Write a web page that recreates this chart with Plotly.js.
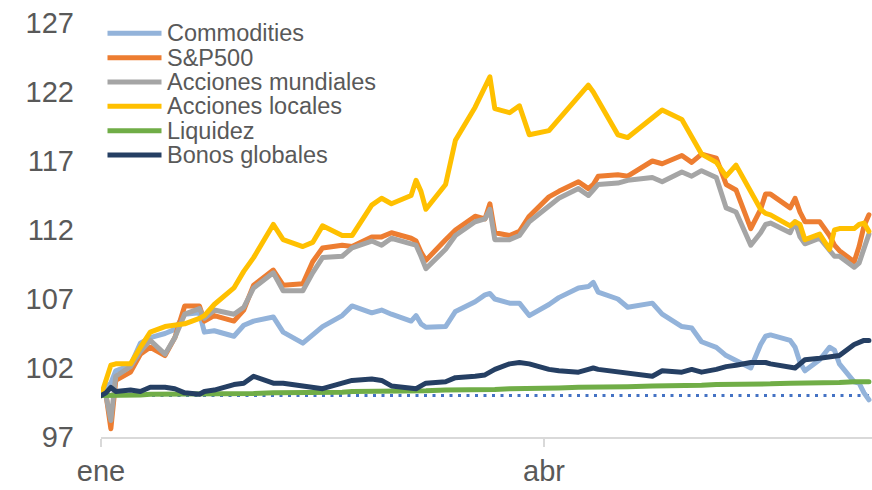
<!DOCTYPE html>
<html>
<head>
<meta charset="utf-8">
<script src="https://cdn.plot.ly/plotly-3.0.1.min.js"></script>
<style>
  html, body { margin: 0; padding: 0; background: #ffffff; }
  #chart { width: 872px; height: 490px; }
  .scatterlayer path.js-line { stroke-linejoin: round; stroke-linecap: round; }
</style>
</head>
<body>
<div id="chart"></div>
<script>
// Índices base 100 = 1 de enero
const fechas = [
  '2019-01-01','2019-01-02','2019-01-03','2019-01-04','2019-01-07','2019-01-09','2019-01-11','2019-01-14','2019-01-16','2019-01-18','2019-01-21','2019-01-22','2019-01-24','2019-01-28','2019-01-30',
  '2019-02-01','2019-02-05','2019-02-07','2019-02-11','2019-02-13','2019-02-15','2019-02-19','2019-02-21','2019-02-25','2019-02-27',
  '2019-03-01','2019-03-05','2019-03-06','2019-03-07','2019-03-08','2019-03-12','2019-03-14','2019-03-18','2019-03-20','2019-03-21','2019-03-22','2019-03-25','2019-03-27','2019-03-29',
  '2019-04-02','2019-04-04','2019-04-08','2019-04-10','2019-04-11','2019-04-12','2019-04-16','2019-04-18','2019-04-23','2019-04-25','2019-04-29',
  '2019-05-01','2019-05-03','2019-05-06','2019-05-08','2019-05-10','2019-05-13','2019-05-15','2019-05-16','2019-05-17','2019-05-21','2019-05-22','2019-05-23','2019-05-24','2019-05-27','2019-05-29','2019-05-30','2019-05-31',
  '2019-06-03','2019-06-04','2019-06-05','2019-06-06'];

const commodities = [
  100, 100.6, 100.9, 101.8, 102.2, 103.8, 104.2, 104.5, 104.8, 105.9, 106.0, 104.6, 104.7, 104.3, 105.1,
  105.4, 105.7, 104.6, 103.8, 104.4, 105.0, 105.8, 106.5, 106.0, 106.2,
  105.9, 105.4, 105.8, 105.2, 104.95, 105.0, 106.1, 106.8, 107.3, 107.4, 107.0, 106.7, 106.7, 105.8,
  106.6, 107.1, 107.8, 107.9, 108.2, 107.5, 107.0, 106.4, 106.7, 105.9, 105.0,
  104.9, 103.9, 103.5, 102.9, 102.5, 102.0, 103.7, 104.3, 104.4, 104.0, 103.5, 102.4, 101.8, 102.6, 103.5, 103.3, 102.3,
  101.0, 100.9, 100.2, 99.7];

const sp500 = [
  100, 100.1, 97.6, 101.1, 101.7, 103.0, 103.5, 102.9, 104.2, 106.5, 106.5, 105.4, 105.8, 105.4, 106.2,
  108.0, 109.1, 108.0, 108.1, 109.7, 110.7, 110.9, 110.8, 111.5, 111.5,
  111.8, 111.4, 111.2, 110.4, 109.8, 111.3, 112.0, 113.0, 112.8, 113.9, 111.8, 111.6, 111.9, 113.0,
  114.4, 114.8, 115.5, 115.0, 115.3, 115.9, 116.0, 115.9, 117.0, 116.8, 117.4,
  116.9, 117.5, 117.2, 115.3, 114.9, 112.1, 113.5, 114.6, 114.6, 113.6, 114.3, 113.3, 112.6, 112.6, 111.6, 110.9, 110.5,
  109.7, 110.8, 112.3, 113.1];

const accionesMundiales = [
  100, 100.0, 98.2, 101.4, 102.1, 103.2, 104.0, 103.0, 104.2, 105.9, 106.3, 105.6, 106.2, 105.9, 106.4,
  107.8, 108.9, 107.6, 107.6, 108.9, 110.0, 110.1, 110.7, 111.2, 110.9,
  111.4, 111.0, 110.9, 110.1, 109.2, 110.6, 111.6, 112.6, 112.8, 113.5, 111.3, 111.3, 111.6, 112.6,
  113.8, 114.3, 115.0, 114.5, 114.9, 115.3, 115.4, 115.6, 115.8, 115.5, 116.2,
  115.9, 116.3, 115.8, 113.6, 113.3, 110.9, 111.8, 112.4, 112.5, 111.8, 112.6, 111.5, 111.0, 111.4, 110.5, 110.1, 110.1,
  109.3, 109.6, 110.6, 111.7];

const accionesLocales = [
  100, 101.2, 102.2, 102.3, 102.3, 103.5, 104.6, 105.0, 105.1, 105.2, 105.6, 105.8, 106.6, 107.8, 109.0,
  110.0, 112.4, 111.3, 110.8, 111.1, 112.3, 111.6, 111.6, 113.8, 114.3,
  113.9, 114.5, 115.6, 114.8, 113.5, 115.3, 118.5, 120.9, 122.5, 123.1, 120.8, 120.5, 121.0, 118.9,
  119.2, 120.0, 121.6, 122.5, 122.0, 121.4, 118.9, 118.7, 120.1, 120.7, 120.0,
  118.7, 117.5, 116.9, 115.9, 116.7, 114.7, 113.5, 113.2, 113.1, 112.3, 112.6, 112.4, 111.3, 111.7, 110.6, 112.0, 112.1,
  112.1, 112.4, 112.5, 111.9];

const liquidez = [
  100.0, 100.0, 100.0, 100.05, 100.05, 100.05, 100.1, 100.1, 100.15, 100.15, 100.1, 100.1, 100.1, 100.1, 100.15,
  100.15, 100.2, 100.2, 100.2, 100.2, 100.25, 100.25, 100.3, 100.3, 100.3,
  100.3, 100.35, 100.35, 100.35, 100.35, 100.4, 100.4, 100.4, 100.45, 100.45, 100.45, 100.5, 100.5, 100.5,
  100.55, 100.55, 100.6, 100.6, 100.6, 100.6, 100.65, 100.65, 100.7, 100.7, 100.75,
  100.75, 100.75, 100.8, 100.8, 100.8, 100.85, 100.85, 100.85, 100.85, 100.9, 100.9, 100.9, 100.9, 100.95, 100.95, 100.95, 100.95,
  101.0, 101.0, 101.0, 101.0];

const bonosGlobales = [
  100, 100.2, 100.6, 100.3, 100.4, 100.3, 100.6, 100.6, 100.5, 100.2, 100.1, 100.3, 100.4, 100.8, 100.9,
  101.4, 100.9, 100.9, 100.7, 100.6, 100.5, 100.9, 101.1, 101.2, 101.1,
  100.7, 100.5, 100.5, 100.7, 100.9, 101.0, 101.3, 101.4, 101.5, 101.7, 101.9, 102.3, 102.4, 102.3,
  101.9, 101.8, 101.7, 101.9, 102.0, 101.9, 101.7, 101.6, 101.4, 101.8, 101.7,
  101.9, 101.7, 101.9, 102.1, 102.2, 102.4, 102.4, 102.4, 102.3, 102.0, 102.0, 102.3, 102.6, 102.7, 102.8, 102.9, 102.9,
  103.7, 103.9, 104.0, 104.0];

const nombres = ['Commodities', 'S&P500', 'Acciones mundiales', 'Acciones locales', 'Liquidez', 'Bonos globales'];
const valores = [commodities, sp500, accionesMundiales, accionesLocales, liquidez, bonosGlobales];
const colores = ['#93B3DA', '#ED7D31', '#A5A5A5', '#FFC000', '#70AD47', '#253F63'];

const yTicks = [97, 102, 107, 112, 117, 122, 127];
const xTickVals = ['2019-01-01', '2019-04-01'];
const xTickText = ['ene', 'abr'];
const base = 100;

const FONT = 'Liberation Sans, Arial, sans-serif';
const GRIS = '#595959';

// geometría del área de trazado (px)
const W = 872, H = 490;
const M = { l: 101, r: 0, t: 23, b: 53 };
const plotH = H - M.t - M.b;
const plotW = W - M.l - M.r;
const px2py = py => (H - M.b - py) / plotH;
const px2px = px => (px - M.l) / plotW;

const traces = nombres.map((n, i) => ({
  type: 'scatter',
  mode: 'lines',
  name: n,
  x: fechas,
  y: valores[i],
  line: { color: colores[i], width: 5 },
  hoverinfo: 'skip',
  showlegend: false
}));

// línea punteada en el nivel base y leyenda dibujada a mano (interlineado compacto)
const shapes = [{
  type: 'line', xref: 'x', yref: 'y', layer: 'below',
  x0: fechas[0], x1: fechas[fechas.length - 1], y0: base, y1: base,
  line: { color: '#4472C4', width: 3, dash: '3px,5.5px' }
}];
const annotations = [];
nombres.forEach((n, i) => {
  const yc = px2py(33.3 + i * 24.35);
  shapes.push({
    type: 'line', xref: 'paper', yref: 'paper',
    x0: px2px(107.5), x1: px2px(161.5), y0: yc, y1: yc,
    line: { color: colores[i], width: 5 }
  });
  annotations.push({
    xref: 'paper', yref: 'paper', x: px2px(165), y: yc,
    xanchor: 'left', yanchor: 'middle', showarrow: false,
    text: n.replace('&', '&amp;'),
    font: { family: FONT, size: 23.5, color: GRIS }
  });
});

const layout = {
  width: W, height: H,
  margin: M,
  paper_bgcolor: '#ffffff',
  plot_bgcolor: '#ffffff',
  showlegend: false,
  xaxis: {
    type: 'date',
    range: ['2019-01-01', '2019-06-06 15:00'],
    tickmode: 'array', tickvals: xTickVals, ticktext: xTickText,
    showgrid: false, zeroline: false,
    showline: true, linecolor: '#D9D9D9', linewidth: 1.5,
    ticks: 'outside', ticklen: 8, tickwidth: 1.5, tickcolor: '#D9D9D9',
    tickfont: { family: FONT, size: 29, color: GRIS },
    fixedrange: true
  },
  yaxis: {
    range: [97, 127],
    tickmode: 'array', tickvals: yTicks, ticktext: yTicks.map(String),
    showgrid: false, zeroline: false, showline: false,
    ticks: '', ticklabelstandoff: 26,
    tickfont: { family: FONT, size: 29, color: GRIS },
    fixedrange: true
  },
  shapes: shapes,
  annotations: annotations
};

Plotly.newPlot('chart', traces, layout, { displayModeBar: false, staticPlot: true });
</script>
</body>
</html>
